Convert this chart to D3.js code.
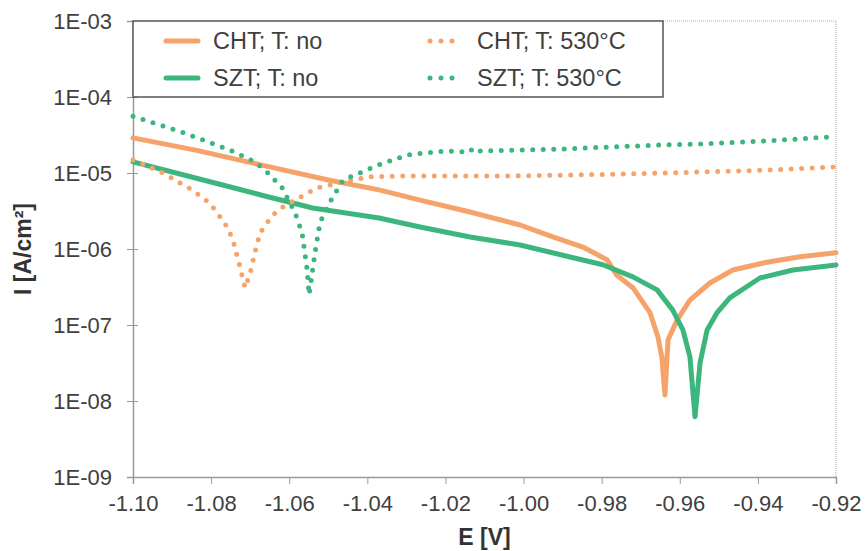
<!DOCTYPE html>
<html>
<head>
<meta charset="utf-8">
<script src="https://cdn.jsdelivr.net/npm/d3@7"></script>
<style>
  body { margin: 0; background: #fff; }
  svg { font-family: "Liberation Sans", Arial, sans-serif; }
</style>
</head>
<body>
<div id="chart"></div>
<script>
// polarisation curves, values
// E in V, I in A/cm2
const chtNoE = [-1.100, -1.084, -1.067, -1.050, -1.037, -1.0265, -1.0137, -1.0009, -0.9925, -0.9848, -0.9786, -0.9761, -0.9720, -0.9676, -0.9656, -0.9646, -0.9638, -0.9630, -0.9607, -0.9574, -0.9523, -0.9464, -0.9377, -0.9292, -0.920];
const chtNoI = [2.9e-5, 2.0e-5, 1.27e-5, 8.1e-6, 6.0e-6, 4.4e-6, 3.07e-6, 2.07e-6, 1.44e-6, 1.06e-6, 7.2e-7, 4.5e-7, 3.1e-7, 1.44e-7, 7.0e-8, 3.8e-8, 1.2e-8, 6.4e-8, 1.16e-7, 2.13e-7, 3.57e-7, 5.3e-7, 6.7e-7, 7.9e-7, 8.9e-7];

const sztNoE = [-1.100, -1.084, -1.067, -1.054, -1.037, -1.0265, -1.0137, -1.0009, -0.9881, -0.9797, -0.9720, -0.9658, -0.9618, -0.9592, -0.9574, -0.9561, -0.9548, -0.9530, -0.9505, -0.9472, -0.9395, -0.9310, -0.920];
const sztNoI = [1.4e-5, 8.6e-6, 5.1e-6, 3.46e-6, 2.56e-6, 1.95e-6, 1.44e-6, 1.13e-6, 7.85e-7, 6.2e-7, 4.3e-7, 2.9e-7, 1.57e-7, 8.6e-8, 3.8e-8, 6.2e-9, 3.2e-8, 8.6e-8, 1.44e-7, 2.27e-7, 4.15e-7, 5.3e-7, 6.15e-7];

const cht530E = [-1.100, -1.0923, -1.0849, -1.0803, -1.0777, -1.0759, -1.0744, -1.0726, -1.0713, -1.0700, -1.0688, -1.0675, -1.0657, -1.0642, -1.0616, -1.0572, -1.0529, -1.0462, -1.0393, -1.0309, -1.0053, -0.9735, -0.9548, -0.9377, -0.920];
const cht530I = [1.48e-5, 1.0e-5, 6.0e-6, 4.0e-6, 2.64e-6, 1.95e-6, 1.31e-6, 5.8e-7, 3.1e-7, 4.8e-7, 8.9e-7, 1.62e-6, 2.2e-6, 2.8e-6, 3.57e-6, 4.8e-6, 6.35e-6, 7.6e-6, 8.9e-6, 9.1e-6, 9.1e-6, 9.7e-6, 1.03e-5, 1.09e-5, 1.2e-5];

const szt530E = [-1.100, -1.0875, -1.0752, -1.0688, -1.0657, -1.0619, -1.0585, -1.0567, -1.0555, -1.0549, -1.0534, -1.0521, -1.0496, -1.0462, -1.0419, -1.0373, -1.0296, -1.0201, -1.0137, -1.0130, -1.0112, -0.9900, -0.9650, -0.9548, -0.9377, -0.9215, -0.920];
const szt530I = [5.6e-5, 3.46e-5, 2.0e-5, 1.4e-5, 1.03e-5, 6.5e-6, 3.0e-6, 1.62e-6, 5.8e-7, 2.5e-7, 8.9e-7, 2.26e-6, 4.15e-6, 8.1e-6, 1.0e-5, 1.27e-5, 1.73e-5, 1.95e-5, 1.89e-5, 2.13e-5, 1.95e-5, 2.07e-5, 2.34e-5, 2.41e-5, 2.64e-5, 2.98e-5, 2.98e-5];

const seriesNames = ["CHT; T: no", "SZT; T: no", "CHT; T: 530°C", "SZT; T: 530°C"];
const xTickValues = [-1.10, -1.08, -1.06, -1.04, -1.02, -1.00, -0.98, -0.96, -0.94, -0.92];
const yTickValues = [1e-9, 1e-8, 1e-7, 1e-6, 1e-5, 1e-4, 1e-3];
const yTickLabels = ["1E-09", "1E-08", "1E-07", "1E-06", "1E-05", "1E-04", "1E-03"];

const orange = "#f5a36b";
const green = "#3db67e";

const width = 867, height = 551;
const plotLeft = 133, plotRight = 836, plotTop = 21, plotBottom = 477;

const svg = d3.select("#chart").append("svg")
    .attr("width", width)
    .attr("height", height);

svg.append("rect").attr("width", width).attr("height", height).attr("fill", "#fff");

const x = d3.scaleLinear().domain([-1.10, -0.92]).range([plotLeft, plotRight]);
const y = d3.scaleLog().domain([1e-9, 1e-3]).range([plotBottom, plotTop]);

// dotted frame on top/right
svg.append("path")
    .attr("d", `M${plotLeft},${plotTop}H${plotRight}V${plotBottom}`)
    .attr("fill", "none")
    .attr("stroke", "#aaa")
    .attr("stroke-width", 1)
    .attr("stroke-dasharray", "1,1");

// y axis: minor ticks inside, major ticks crossing
svg.append("g")
    .attr("transform", `translate(${plotLeft},0)`)
    .call(d3.axisRight(y).ticks(6).tickSize(5).tickFormat(""))
    .call(g => g.select(".domain").remove())
    .call(g => g.selectAll("line").attr("stroke", "#999"));

const yAxis = svg.append("g")
    .attr("transform", `translate(${plotLeft},0)`)
    .call(d3.axisLeft(y).tickValues(yTickValues).tickSize(6).tickPadding(15)
        .tickFormat((d, i) => yTickLabels[i]));
yAxis.select(".domain").attr("stroke", "#999").attr("stroke-width", 1.5);
yAxis.selectAll("line").attr("stroke", "#999").attr("x2", -6).attr("x1", 5);
yAxis.selectAll("text").attr("font-size", 22).attr("fill", "#404040")
    .attr("font-family", "Liberation Sans, Arial, sans-serif");

const xAxis = svg.append("g")
    .attr("transform", `translate(0,${plotBottom})`)
    .call(d3.axisBottom(x).tickValues(xTickValues).tickSize(7).tickPadding(11)
        .tickFormat(d => d.toFixed(2)));
xAxis.select(".domain").attr("stroke", "#999").attr("stroke-width", 1.5);
xAxis.selectAll("line").attr("stroke", "#999");
xAxis.selectAll("text").attr("font-size", 22).attr("fill", "#404040")
    .attr("font-family", "Liberation Sans, Arial, sans-serif");

// axis titles
svg.append("text")
    .attr("x", (plotLeft + plotRight) / 2)
    .attr("y", 545)
    .attr("text-anchor", "middle")
    .attr("font-size", 23)
    .attr("font-weight", "bold")
    .attr("fill", "#333")
    .text("E [V]");

svg.append("text")
    .attr("transform", `translate(31,${(plotTop + plotBottom) / 2}) rotate(-90)`)
    .attr("text-anchor", "middle")
    .attr("font-size", 23)
    .attr("font-weight", "bold")
    .attr("fill", "#333")
    .text("I [A/cm²]");

// curves
const series = [
    { name: seriesNames[0], E: chtNoE, I: chtNoI, color: orange, dotted: false },
    { name: seriesNames[1], E: sztNoE, I: sztNoI, color: green, dotted: false },
    { name: seriesNames[2], E: cht530E, I: cht530I, color: orange, dotted: true },
    { name: seriesNames[3], E: szt530E, I: szt530I, color: green, dotted: true }
];

const line = d3.line()
    .x(d => x(d[0]))
    .y(d => y(d[1]));

const plot = svg.append("g");

series.forEach(s => {
    const pts = s.E.map((e, i) => [e, s.I[i]]);
    const path = plot.append("path")
        .datum(pts)
        .attr("d", line)
        .attr("fill", "none")
        .attr("stroke", s.color)
        .attr("stroke-width", 5)
        .attr("stroke-linejoin", "round")
        .attr("stroke-linecap", "round");
    if (s.dotted) path.attr("stroke-dasharray", "0,10.5");
});

// legend
const legend = svg.append("g");
legend.append("rect")
    .attr("x", plotLeft)
    .attr("y", plotTop)
    .attr("width", 530)
    .attr("height", 76)
    .attr("fill", "#fff")
    .attr("stroke", "#555")
    .attr("stroke-width", 1.5);

const legendPos = [
    { lx: 166, ly: 41 },
    { lx: 166, ly: 78 },
    { lx: 430, ly: 41 },
    { lx: 430, ly: 78 }
];

series.forEach((s, i) => {
    const p = legendPos[i];
    const sample = legend.append("line")
        .attr("x1", p.lx)
        .attr("x2", s.dotted ? p.lx + 24 : p.lx + 32)
        .attr("y1", p.ly)
        .attr("y2", p.ly)
        .attr("stroke", s.color)
        .attr("stroke-width", 5)
        .attr("stroke-linecap", "round");
    if (s.dotted) sample.attr("stroke-dasharray", "0,11");
    legend.append("text")
        .attr("x", s.dotted ? 477 : 213)
        .attr("y", p.ly + 8)
        .attr("font-size", 23.5)
        .attr("fill", "#404040")
        .text(s.name);
});
</script>
</body>
</html>
